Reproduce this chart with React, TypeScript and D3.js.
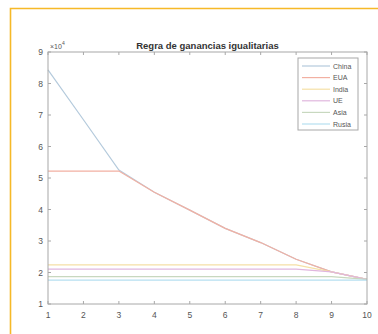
import React from "react";
import * as d3 from "d3";

const xs = [1, 2, 3, 4, 5, 6, 7, 8, 9, 10];
const seriesNames = ["China", "EUA", "India", "UE", "Asia", "Rusia"];
const china = [8.43, 6.85, 5.25, 4.55, 3.98, 3.4, 2.95, 2.42, 2.02, 1.78];
const eua = [5.22, 5.22, 5.22, 4.55, 3.98, 3.4, 2.95, 2.42, 2.02, 1.78];
const india = [2.24, 2.24, 2.24, 2.24, 2.24, 2.24, 2.24, 2.24, 2.02, 1.78];
const ue = [2.11, 2.11, 2.11, 2.11, 2.11, 2.11, 2.11, 2.11, 2.02, 1.78];
const asia = [1.87, 1.87, 1.87, 1.87, 1.87, 1.87, 1.87, 1.87, 1.87, 1.78];
const rusia = [1.76, 1.76, 1.76, 1.76, 1.76, 1.76, 1.76, 1.76, 1.76, 1.76];
const xTicks = [1, 2, 3, 4, 5, 6, 7, 8, 9, 10];
const yTicks = [1, 2, 3, 4, 5, 6, 7, 8, 9];
const colors = ["#b4cadc", "#f2b0a2", "#f5e0a6", "#e0b6de", "#c8d8bf", "#b6dff0"];
const title = "Regra de ganancias igualitarias";

export default function App() {
  const W = 378, H = 334;
  const m = { left: 48, top: 52, right: 367, bottom: 304 };
  const x = d3.scaleLinear().domain([1, 10]).range([m.left, m.right]);
  const y = d3.scaleLinear().domain([1, 9]).range([m.bottom, m.top]);
  const data = [china, eua, india, ue, asia, rusia];
  const line = d3
    .line<number>()
    .x((_, i) => x(xs[i]))
    .y((d) => y(d));
  const axisColor = "#a8a8a8";
  const textColor = "#555";
  const tl = 3;
  const font = "Liberation Sans, Arial, sans-serif";
  const leg = { x: 298, y: 58, w: 60, h: 72 };
  return (
    <svg width={W} height={H} style={{ position: "absolute", left: 0, top: 0 }} fontFamily={font}>
      <rect width={W} height={H} fill="#fff" />
      <path d={`M10.5,${H} L10.5,8.5 L${W},8.5`} fill="none" stroke="#f6b928" strokeWidth={1.6} />
      {data.map((d, i) => (
        <path key={i} d={line(d) || ""} fill="none" stroke={colors[i]} strokeWidth={1.2} />
      ))}
      <rect x={m.left} y={m.top} width={m.right - m.left} height={m.bottom - m.top} fill="none" stroke={axisColor} strokeWidth={1} />
      {xTicks.map((t) => (
        <g key={"x" + t}>
          <line x1={x(t)} x2={x(t)} y1={m.bottom} y2={m.bottom - tl} stroke={axisColor} />
          <line x1={x(t)} x2={x(t)} y1={m.top} y2={m.top + tl} stroke={axisColor} />
          <text x={x(t)} y={m.bottom + 14} fontSize={8.5} textAnchor="middle" fill={textColor}>
            {t}
          </text>
        </g>
      ))}
      {yTicks.map((t) => (
        <g key={"y" + t}>
          <line x1={m.left} x2={m.left + tl} y1={y(t)} y2={y(t)} stroke={axisColor} />
          <line x1={m.right} x2={m.right - tl} y1={y(t)} y2={y(t)} stroke={axisColor} />
          <text x={m.left - 5} y={y(t) + 3} fontSize={8.5} textAnchor="end" fill={textColor}>
            {t}
          </text>
        </g>
      ))}
      <text x={m.left + 2} y={m.top - 3} fontSize={7} fill={textColor}>
        ×10
        <tspan fontSize={5} dy={-4}>4</tspan>
      </text>
      <text x={(m.left + m.right) / 2} y={m.top - 3} fontSize={9.5} fontWeight="bold" textAnchor="middle" fill="#333">
        {title}
      </text>
      <rect x={leg.x} y={leg.y} width={leg.w} height={leg.h} fill="#fff" stroke={axisColor} />
      {seriesNames.map((n, i) => {
        const yy = leg.y + 8 + i * 11.6;
        return (
          <g key={n}>
            <line x1={leg.x + 4} x2={leg.x + 32} y1={yy} y2={yy} stroke={colors[i]} strokeWidth={1.2} />
            <text x={leg.x + 35} y={yy + 2.5} fontSize={7} fill={textColor}>
              {n}
            </text>
          </g>
        );
      })}
    </svg>
  );
}
